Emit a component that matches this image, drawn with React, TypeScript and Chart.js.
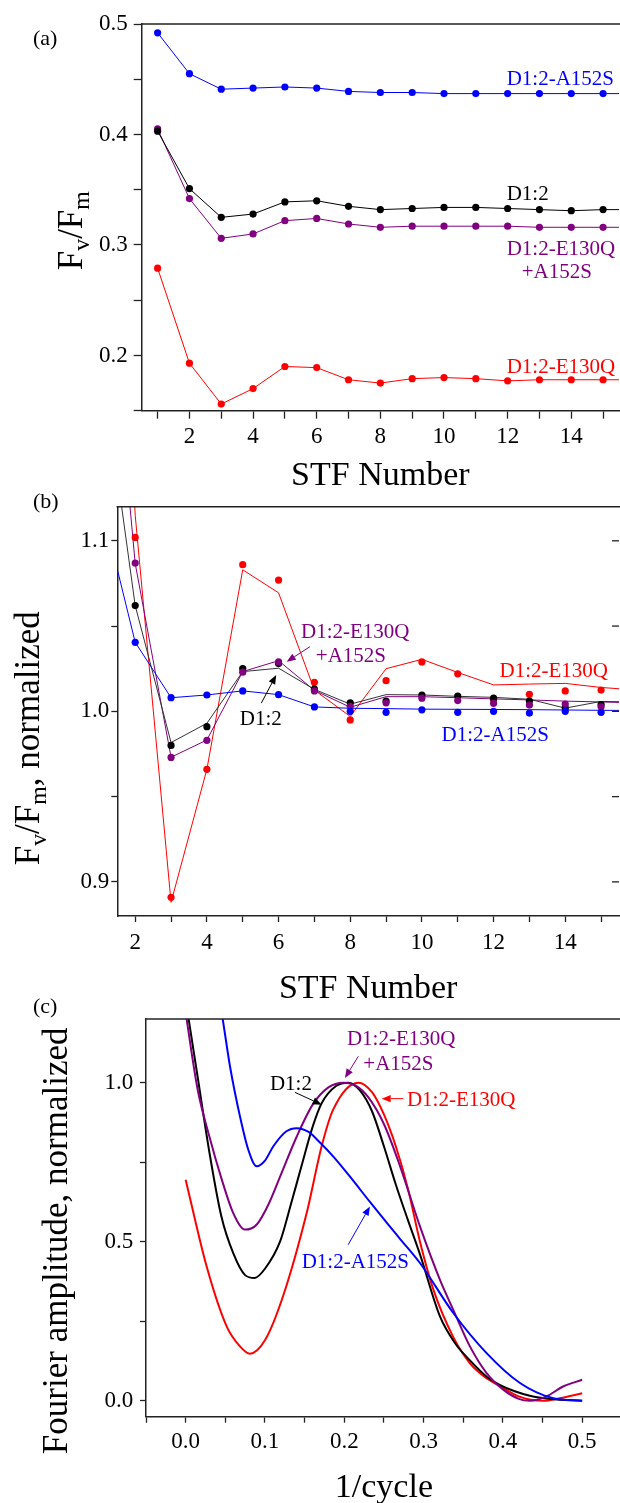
import React, { useEffect, useRef } from "react";
import { Chart, registerables } from "chart.js";

Chart.register(...registerables);

const SERIF = "'Liberation Serif', 'Times New Roman', Times, serif";
const BLUE = "#0000ff";
const BLACK = "#000000";
const PURPLE = "#800080";
const RED = "#ff0000";
const AXIS = "#222222";

// ---------------- Panel (a): Fv/Fm vs STF number ----------------
const stfA = [1, 2, 3, 4, 5, 6, 7, 8, 9, 10, 11, 12, 13, 14, 15, 16];
const fvfmA152S = [0.492, 0.455, 0.441, 0.442, 0.443, 0.442, 0.439, 0.438, 0.438, 0.437, 0.437, 0.437, 0.437, 0.437, 0.437, 0.437];
const fvfmD12 = [0.403, 0.351, 0.325, 0.328, 0.339, 0.34, 0.335, 0.332, 0.333, 0.334, 0.334, 0.333, 0.332, 0.331, 0.332, 0.332];
const fvfmE130QA152S = [0.405, 0.342, 0.306, 0.31, 0.322, 0.324, 0.319, 0.316, 0.317, 0.317, 0.317, 0.317, 0.316, 0.316, 0.316, 0.316];
const fvfmE130Q = [0.279, 0.193, 0.156, 0.17, 0.19, 0.189, 0.178, 0.175, 0.179, 0.18, 0.179, 0.177, 0.178, 0.178, 0.178, 0.178];
const xTicksA = [1, 2, 3, 4, 5, 6, 7, 8, 9, 10, 11, 12, 13, 14, 15];
const xLabelsA = [2, 4, 6, 8, 10, 12, 14];
const yTicksA = [0.15, 0.2, 0.25, 0.3, 0.35, 0.4, 0.45, 0.5];
const yLabelsA = [0.2, 0.3, 0.4, 0.5];

// ---------------- Panel (b): normalized Fv/Fm ----------------
const stfPointsB = [2, 3, 4, 5, 6, 7, 8, 9, 10, 11, 12, 13, 14, 15];
const normPtsA152S = [1.0405, 1.008, 1.0096, 1.012, 1.0098, 1.0026, 1.0, 0.9994, 1.0009, 0.9994, 1.0, 0.999, 1.0, 0.9994];
const normPtsD12 = [1.062, 0.98, 0.991, 1.025, 1.028, 1.013, 1.005, 1.006, 1.0096, 1.009, 1.0077, 1.006, 1.002, 1.004];
const normPtsE130QA152S = [1.087, 0.973, 0.983, 1.023, 1.029, 1.012, 1.003, 1.005, 1.0077, 1.0063, 1.0047, 1.0037, 1.0043, 1.0027];
const normPtsE130Q = [1.102, 0.891, 0.966, 1.086, 1.077, 1.017, 0.995, 1.018, 1.029, 1.022, 1.007, 1.01, 1.012, 1.0125];
const stfLinesB = [1, 2, 3, 4, 5, 6, 7, 8, 9, 10, 11, 12, 13, 14, 15, 16];
const normFitA152S = [1.126, 1.0405, 1.008, 1.0096, 1.012, 1.0098, 1.0026, 1.0018, 1.0016, 1.0013, 1.0012, 1.0011, 1.001, 1.0008, 1.0006, 1.0005];
const normFitD12 = [1.215, 1.062, 0.9817, 0.993, 1.0233, 1.0253, 1.0129, 1.0042, 1.0098, 1.0096, 1.0088, 1.0082, 1.0071, 1.0019, 1.0058, 1.0055];
const normFitE130QA152S = [1.315, 1.0867, 0.9731, 0.9832, 1.0233, 1.0297, 1.0123, 1.0024, 1.0086, 1.0086, 1.008, 1.0073, 1.0067, 1.006, 1.0055, 1.005];
const normFitE130Q = [1.5, 1.115, 0.888, 0.966, 1.083, 1.0695, 1.0125, 0.997, 1.025, 1.0305, 1.0228, 1.0155, 1.016, 1.0164, 1.014, 1.0125];
const xTicksB = [2, 3, 4, 5, 6, 7, 8, 9, 10, 11, 12, 13, 14, 15];
const xLabelsB = [2, 4, 6, 8, 10, 12, 14];
const yTicksB = [0.9, 0.95, 1.0, 1.05, 1.1];
const yLabelsB = [0.9, 1.0, 1.1];

// ---------------- Panel (c): Fourier amplitude ----------------
const freqD12 = [0, 0.015, 0.03, 0.045, 0.06, 0.075, 0.087, 0.1, 0.119, 0.133, 0.146, 0.16, 0.1715, 0.19, 0.205, 0.22, 0.235, 0.25, 0.265, 0.28, 0.2955, 0.3207, 0.34, 0.3585, 0.38, 0.396, 0.415, 0.434, 0.46, 0.5];
const ampD12 = [1.26, 1.02, 0.78, 0.58, 0.464, 0.395, 0.386, 0.415, 0.5, 0.62, 0.737, 0.86, 0.935, 0.99, 1.0, 0.975, 0.91, 0.8, 0.68, 0.57, 0.46, 0.265, 0.18, 0.127, 0.075, 0.05, 0.03, 0.016, 0.006, 0.0];
const freqE130QA152S = [0, 0.015, 0.03, 0.045, 0.06, 0.075, 0.09, 0.105, 0.12, 0.14, 0.16, 0.18, 0.199, 0.215, 0.23, 0.25, 0.27, 0.2955, 0.3207, 0.3375, 0.3585, 0.3795, 0.4005, 0.42, 0.434, 0.455, 0.476, 0.5];
const ampE130QA152S = [1.22, 0.98, 0.83, 0.7, 0.59, 0.538, 0.555, 0.62, 0.71, 0.83, 0.93, 0.985, 1.0, 0.99, 0.955, 0.87, 0.74, 0.548, 0.38, 0.286, 0.171, 0.087, 0.035, 0.006, 0.0, 0.014, 0.045, 0.066];
const freqE130Q = [0, 0.0265, 0.0517, 0.0685, 0.081, 0.1, 0.123, 0.1526, 0.1715, 0.186, 0.2177, 0.235, 0.25, 0.265, 0.28, 0.2955, 0.3123, 0.3375, 0.3585, 0.38, 0.396, 0.42, 0.45, 0.472, 0.5];
const ampE130Q = [0.695, 0.422, 0.234, 0.171, 0.148, 0.19, 0.33, 0.59, 0.8, 0.915, 1.0, 0.97, 0.9, 0.8, 0.67, 0.5, 0.35, 0.2, 0.118, 0.07, 0.047, 0.014, 0.0, 0.008, 0.024];
const freqA152S = [0, 0.02, 0.035, 0.0467, 0.056, 0.0685, 0.079, 0.0895, 0.1, 0.1106, 0.127, 0.14, 0.155, 0.17, 0.186, 0.207, 0.2324, 0.2535, 0.27, 0.2955, 0.3375, 0.3795, 0.4216, 0.4636, 0.5];
const ampA152S = [2.0, 1.62, 1.37, 1.2, 1.05, 0.894, 0.789, 0.737, 0.755, 0.8, 0.847, 0.857, 0.845, 0.81, 0.768, 0.705, 0.625, 0.56, 0.51, 0.433, 0.276, 0.15, 0.056, 0.008, 0.0];
const xTicksC = [-0.05, 0, 0.05, 0.1, 0.15, 0.2, 0.25, 0.3, 0.35, 0.4, 0.45, 0.5];
const xLabelsC = [0, 0.1, 0.2, 0.3, 0.4, 0.5];
const yTicksC = [0, 0.25, 0.5, 0.75, 1.0];
const yLabelsC = [0, 0.5, 1.0];

// ---------------- helpers ----------------
type Seg = { t: string; sub?: boolean };

const zip = (xs: number[], ys: number[]) => xs.map((x, i) => ({ x, y: ys[i] }));

const labelIf = (list: number[], digits: number) => (v: any) =>
  list.some((l) => Math.abs(l - Number(v)) < 1e-9) ? Number(v).toFixed(digits) : "";

function drawRich(
  ctx: CanvasRenderingContext2D,
  segs: Seg[],
  x: number,
  y: number,
  size: number,
  align: "left" | "center",
  rotate: boolean,
  color: string
) {
  ctx.save();
  ctx.translate(x, y);
  if (rotate) ctx.rotate(-Math.PI / 2);
  const subSize = size * 0.68;
  const widths = segs.map((s) => {
    ctx.font = `${s.sub ? subSize : size}px ${SERIF}`;
    return ctx.measureText(s.t).width;
  });
  const total = widths.reduce((a, b) => a + b, 0);
  let cx = align === "center" ? -total / 2 : 0;
  ctx.textAlign = "left";
  ctx.textBaseline = "alphabetic";
  ctx.fillStyle = color;
  segs.forEach((s, i) => {
    ctx.font = `${s.sub ? subSize : size}px ${SERIF}`;
    ctx.fillText(s.t, cx, s.sub ? size * 0.2 : 0);
    cx += widths[i];
  });
  ctx.restore();
}

function drawArrow(ctx: CanvasRenderingContext2D, x1: number, y1: number, x2: number, y2: number, color: string) {
  const ang = Math.atan2(y2 - y1, x2 - x1);
  const head = 9;
  const half = 3.6;
  const bx = x2 - head * Math.cos(ang);
  const by = y2 - head * Math.sin(ang);
  ctx.save();
  ctx.strokeStyle = color;
  ctx.lineWidth = 1;
  ctx.beginPath();
  ctx.moveTo(x1, y1);
  ctx.lineTo(bx, by);
  ctx.stroke();
  ctx.fillStyle = color;
  ctx.beginPath();
  ctx.moveTo(x2, y2);
  ctx.lineTo(bx + half * Math.sin(ang), by - half * Math.cos(ang));
  ctx.lineTo(bx - half * Math.sin(ang), by + half * Math.cos(ang));
  ctx.closePath();
  ctx.fill();
  ctx.restore();
}

type Note = { text: string; x: number; y: number; color: string };
type Arrow = { x1: number; y1: number; x2: number; y2: number; color: string };
type Spec = {
  notes: Note[];
  arrows: Arrow[];
  yTitle: Seg[];
  yTitleX: number;
  yTitleY: number;
  xTitle: string;
  xTitleBaseline: number;
  panel: string;
  panelBaseline: number;
  rightTicks?: number[];
};

const overlay = (spec: Spec) => ({
  id: "overlay",
  afterDraw(chart: any) {
    const { ctx, chartArea: ca } = chart;
    const xs = chart.scales.x;
    const ys = chart.scales.y;
    ctx.save();
    // top frame line
    ctx.strokeStyle = AXIS;
    ctx.lineWidth = 1.5;
    ctx.beginPath();
    ctx.moveTo(ca.left - 0.75, ca.top);
    ctx.lineTo(ca.right + 2, ca.top);
    ctx.stroke();
    // right inward ticks
    if (spec.rightTicks) {
      ctx.lineWidth = 1.3;
      spec.rightTicks.forEach((v) => {
        const py = ys.getPixelForValue(v);
        ctx.beginPath();
        ctx.moveTo(ca.right, py);
        ctx.lineTo(ca.right - 7, py);
        ctx.stroke();
      });
    }
    // annotations
    spec.notes.forEach((n) =>
      drawRich(ctx, [{ t: n.text }], xs.getPixelForValue(n.x), ys.getPixelForValue(n.y), 21, "left", false, n.color)
    );
    spec.arrows.forEach((a) =>
      drawArrow(ctx, xs.getPixelForValue(a.x1), ys.getPixelForValue(a.y1), xs.getPixelForValue(a.x2), ys.getPixelForValue(a.y2), a.color)
    );
    // titles
    drawRich(ctx, spec.yTitle, spec.yTitleX, spec.yTitleY, 35, "center", true, BLACK);
    drawRich(ctx, [{ t: spec.xTitle }], (ca.left + ca.right) / 2, spec.xTitleBaseline, 34, "center", false, BLACK);
    drawRich(ctx, [{ t: spec.panel }], 33, spec.panelBaseline, 22, "left", false, BLACK);
    ctx.restore();
  },
});

type AxisCfg = {
  min: number;
  max: number;
  ticks: number[];
  labels: number[];
  digits: number;
  padding: number;
  tickLength: number;
  size: number;
};

function axis(c: AxisCfg, isX: boolean) {
  return {
    type: "linear",
    min: c.min,
    max: c.max,
    bounds: "data",
    afterFit: (s: any) => {
      if (isX) s.height = c.size;
      else s.width = c.size;
    },
    afterBuildTicks: (s: any) => {
      s.ticks = c.ticks.map((v) => ({ value: v }));
    },
    ticks: {
      autoSkip: false,
      maxRotation: 0,
      minRotation: 0,
      padding: c.padding,
      color: BLACK,
      font: { family: SERIF, size: 23 },
      callback: labelIf(c.labels, c.digits),
    },
    grid: {
      display: true,
      drawOnChartArea: false,
      drawTicks: true,
      tickLength: c.tickLength,
      tickColor: AXIS,
      tickWidth: 1.3,
    },
    border: { display: true, color: AXIS, width: 1.5 },
  };
}

function baseOptions(pad: any, x: any, y: any) {
  return {
    responsive: false,
    animation: false,
    events: [],
    layout: { padding: pad },
    plugins: { legend: { display: false }, tooltip: { enabled: false } },
    scales: { x, y },
  };
}

const pointsLine = (label: string, xs: number[], ys: number[], color: string) => ({
  label,
  data: zip(xs, ys),
  borderColor: color,
  backgroundColor: color,
  borderWidth: 1,
  pointRadius: 3.6,
  pointBorderWidth: 0,
  pointBackgroundColor: color,
  tension: 0,
});

function configA() {
  return {
    type: "line",
    data: {
      datasets: [
        pointsLine("D1:2-A152S", stfA, fvfmA152S, BLUE),
        pointsLine("D1:2", stfA, fvfmD12, BLACK),
        pointsLine("D1:2-E130Q+A152S", stfA, fvfmE130QA152S, PURPLE),
        pointsLine("D1:2-E130Q", stfA, fvfmE130Q, RED),
      ],
    },
    options: baseOptions(
      { left: 81.7, right: 2, top: 24, bottom: 49.3 },
      axis({ min: 0.5, max: 15.5, ticks: xTicksA, labels: xLabelsA, digits: 0, padding: 4, tickLength: 8, size: 40 }, true),
      axis({ min: 0.15, max: 0.5, ticks: yTicksA, labels: yLabelsA, digits: 1, padding: 6, tickLength: 8, size: 60 }, false)
    ),
    plugins: [
      overlay({
        notes: [
          { text: "D1:2-A152S", x: 11.97, y: 0.4448, color: BLUE },
          { text: "D1:2", x: 11.97, y: 0.3409, color: BLACK },
          { text: "D1:2-E130Q", x: 11.97, y: 0.2911, color: PURPLE },
          { text: "+A152S", x: 12.44, y: 0.2703, color: PURPLE },
          { text: "D1:2-E130Q", x: 11.97, y: 0.1844, color: RED },
        ],
        arrows: [],
        yTitle: [{ t: "F" }, { t: "v", sub: true }, { t: "/F" }, { t: "m", sub: true }],
        yTitleX: 82,
        yTitleY: 230.7,
        xTitle: "STF Number",
        xTitleBaseline: 485,
        panel: "(a)",
        panelBaseline: 45,
      }),
    ],
  };
}

const pointsOnly = (label: string, xs: number[], ys: number[], color: string) => ({
  label,
  data: zip(xs, ys),
  showLine: false,
  borderColor: color,
  backgroundColor: color,
  pointRadius: 3.6,
  pointBorderWidth: 0,
  pointBackgroundColor: color,
});

const fitLine = (label: string, xs: number[], ys: number[], color: string) => ({
  label,
  data: zip(xs, ys),
  borderColor: color,
  borderWidth: 1,
  pointRadius: 0,
  tension: 0,
});

function configB() {
  return {
    type: "line",
    data: {
      datasets: [
        pointsOnly("D1:2-A152S", stfPointsB, normPtsA152S, BLUE),
        pointsOnly("D1:2-E130Q+A152S", stfPointsB, normPtsE130QA152S, PURPLE),
        pointsOnly("D1:2", stfPointsB, normPtsD12, BLACK),
        pointsOnly("D1:2-E130Q", stfPointsB, normPtsE130Q, RED),
        fitLine("fit D1:2-A152S", stfLinesB, normFitA152S, BLUE),
        fitLine("fit D1:2", stfLinesB, normFitD12, "#333333"),
        fitLine("fit D1:2-E130Q+A152S", stfLinesB, normFitE130QA152S, PURPLE),
        fitLine("fit D1:2-E130Q", stfLinesB, normFitE130Q, RED),
      ],
    },
    options: baseOptions(
      { left: 57.3, right: 2, top: 26.7, bottom: 54 },
      axis({ min: 1.5, max: 15.5, ticks: xTicksB, labels: xLabelsB, digits: 0, padding: 6.7, tickLength: 6, size: 40 }, true),
      axis({ min: 0.88, max: 1.12, ticks: yTicksB, labels: yLabelsB, digits: 1, padding: 2, tickLength: 6, size: 60 }, false)
    ),
    plugins: [
      overlay({
        notes: [
          { text: "D1:2-E130Q", x: 6.626, y: 1.0428, color: PURPLE },
          { text: "+A152S", x: 7.04, y: 1.0291, color: PURPLE },
          { text: "D1:2", x: 4.917, y: 0.992, color: BLACK },
          { text: "D1:2-E130Q", x: 12.166, y: 1.0203, color: RED },
          { text: "D1:2-A152S", x: 10.548, y: 0.9827, color: BLUE },
        ],
        arrows: [
          { x1: 6.875, y1: 1.0379, x2: 6.227, y2: 1.0291, color: PURPLE },
          { x1: 5.518, y1: 1.0048, x2: 5.934, y2: 1.0213, color: BLACK },
        ],
        yTitle: [{ t: "F" }, { t: "v", sub: true }, { t: "/F" }, { t: "m", sub: true }, { t: ", normalized" }],
        yTitleX: 38.5,
        yTitleY: 258.3,
        xTitle: "STF Number",
        xTitleBaseline: 518.3,
        panel: "(b)",
        panelBaseline: 28,
        rightTicks: yTicksB,
      }),
    ],
  };
}

const curve = (label: string, xs: number[], ys: number[], color: string) => ({
  label,
  data: zip(xs, ys),
  borderColor: color,
  borderWidth: 2,
  pointRadius: 0,
  cubicInterpolationMode: "monotone",
});

function configC() {
  return {
    type: "line",
    data: {
      datasets: [
        curve("D1:2-A152S", freqA152S, ampA152S, BLUE),
        curve("D1:2-E130Q+A152S", freqE130QA152S, ampE130QA152S, PURPLE),
        curve("D1:2", freqD12, ampD12, BLACK),
        curve("D1:2-E130Q", freqE130Q, ampE130Q, RED),
      ],
    },
    options: baseOptions(
      { left: 86, right: 1.2, top: 29, bottom: 46.3 },
      axis({ min: -0.05, max: 0.55, ticks: xTicksC, labels: xLabelsC, digits: 1, padding: 5.2, tickLength: 6, size: 40 }, true),
      axis({ min: -0.05, max: 1.2, ticks: yTicksC, labels: yLabelsC, digits: 1, padding: 6.7, tickLength: 6, size: 60 }, false)
    ),
    plugins: [
      overlay({
        notes: [
          { text: "D1:2", x: 0.1063, y: 0.978, color: BLACK },
          { text: "D1:2-E130Q", x: 0.2034, y: 1.1195, color: PURPLE },
          { text: "+A152S", x: 0.224, y: 1.0409, color: PURPLE },
          { text: "D1:2-E130Q", x: 0.279, y: 0.9255, color: RED },
          { text: "D1:2-A152S", x: 0.1463, y: 0.4182, color: BLUE },
        ],
        arrows: [
          { x1: 0.1378, y1: 0.9695, x2: 0.1715, y2: 0.9308, color: BLACK },
          { x1: 0.2177, y1: 1.0827, x2: 0.2009, y2: 1.0148, color: PURPLE },
          { x1: 0.2744, y1: 0.9497, x2: 0.2472, y2: 0.9497, color: RED },
          { x1: 0.205, y1: 0.4906, x2: 0.2324, y2: 0.611, color: BLUE },
        ],
        yTitle: [{ t: "Fourier amplitude, normalized" }],
        yTitleX: 66.7,
        yTitleY: 250.8,
        xTitle: "1/cycle",
        xTitleBaseline: 506.7,
        panel: "(c)",
        panelBaseline: 23,
      }),
    ],
  };
}

function Panel({ make, top, height }: { make: () => any; top: number; height: number }) {
  const ref = useRef<HTMLCanvasElement>(null);
  useEffect(() => {
    const chart = new Chart(ref.current as HTMLCanvasElement, make());
    return () => chart.destroy();
  }, []);
  return (
    <canvas
      ref={ref}
      width={623}
      height={height}
      style={{ position: "absolute", left: 0, top, width: 623, height, display: "block" }}
    />
  );
}

export default function App() {
  return (
    <div
      style={{
        position: "absolute",
        left: 0,
        top: 0,
        width: 620,
        height: 1503,
        overflow: "hidden",
        background: "#ffffff",
      }}
    >
      <Panel make={configA} top={0} height={500} />
      <Panel make={configB} top={480} height={530} />
      <Panel make={configC} top={990} height={513} />
    </div>
  );
}
